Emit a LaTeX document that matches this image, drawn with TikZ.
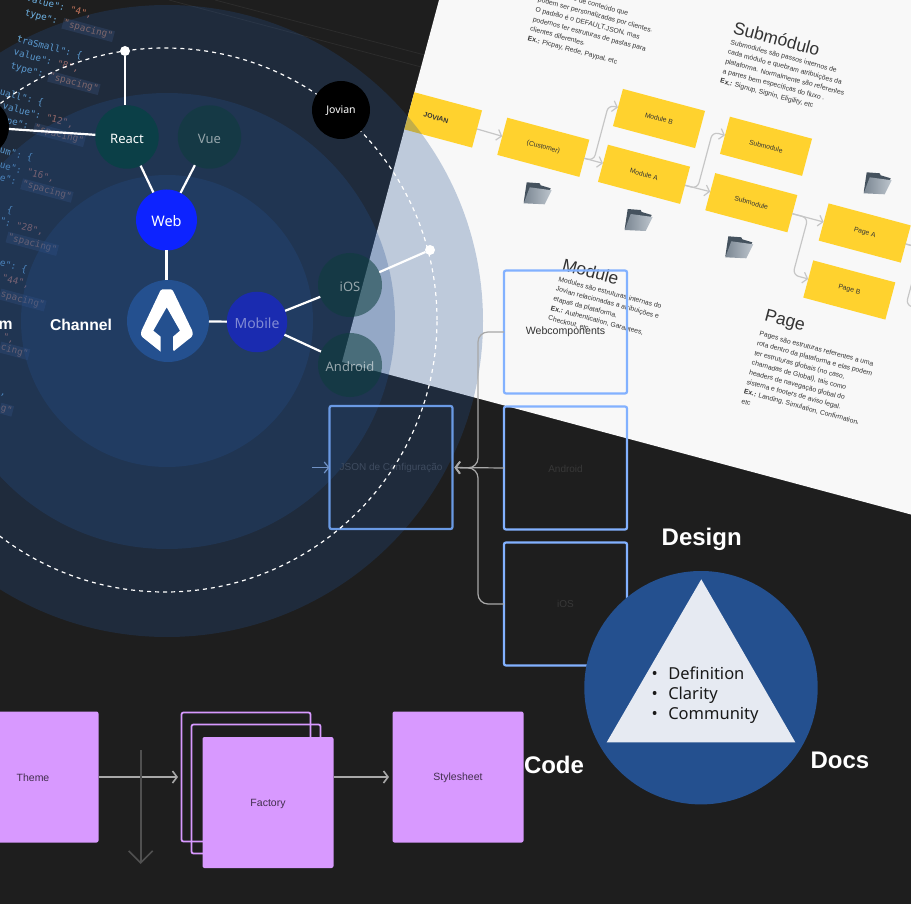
\documentclass[tikz,border=0pt]{standalone}
\usepackage{fontspec}
\setmainfont{Liberation Sans}
\setmonofont{DejaVu Sans Mono}
\newfontfamily\rub{Noto Sans}
\usetikzlibrary{arrows.meta,calc}
\definecolor{bgdark}{HTML}{1E1E1E}
\definecolor{panelc}{HTML}{F8F8F8}
\definecolor{ringc}{HTML}{24508F}
\definecolor{yell}{HTML}{FFD22E}
\definecolor{sqc}{HTML}{82B1FF}
\definecolor{sqd}{HTML}{6A9AE4}
\definecolor{lila}{HTML}{D899FF}
\definecolor{grayarr}{HTML}{C6C6C6}
\definecolor{teal}{HTML}{0D3D3C}
\definecolor{keyc}{HTML}{6FB4E6}
\definecolor{valc}{HTML}{C2735A}
\definecolor{strc}{HTML}{A0705F}
\definecolor{hlc}{HTML}{2A303C}
\definecolor{inkc}{HTML}{333333}
\definecolor{dimj}{HTML}{3F4C60}
\definecolor{dimt}{HTML}{383838}
\definecolor{foldb}{HTML}{45525E}
\definecolor{foldl}{HTML}{BEC6CE}
\definecolor{foldd}{HTML}{7A8692}
\newcommand\fsz[2]{\fontsize{#1}{#2}\selectfont}
\newcommand\dn[1]{\rule{0pt}{.95em}#1}
\newcommand\K[1]{\textcolor{keyc}{#1}}
\newcommand\V[1]{\textcolor{valc}{#1}}
\newcommand\HL[1]{{\setlength{\fboxsep}{1pt}\colorbox{hlc}{\textcolor{strc}{#1}}}}
\newcommand\codeln[4]{\node[codetxt] (#1) at (#2,#3) {#4};}
\tikzset{
  codetxt/.style={anchor=west,rotate=-15,inner sep=0pt,outer sep=0pt,font=\ttfamily\fsz{9.3}{11}},
  ring/.style={circle,fill=ringc,fill opacity=.27,draw=none,inner sep=0pt,outer sep=0pt},
  ybox/.style={rectangle,fill=yell,minimum width=85pt,minimum height=38.5pt,rotate=-15,inner sep=0pt,outer sep=0pt,text=inkc,font=\fsz{6.8}{8}},
  garr/.style={draw=grayarr,line width=1.2pt,-{Straight Barb[length=4.5pt,width=11pt,line width=1.2pt]},rounded corners=6pt},
  gline/.style={draw=grayarr,line width=1.2pt,rounded corners=6pt},
  ptitle/.style={rotate=-15,anchor=west,inner sep=0pt,outer sep=0pt,text=inkc,font=\fsz{17.5}{20}},
  pbody/.style={rotate=-15,anchor=north west,inner sep=0pt,outer sep=0pt,text=inkc,align=left,font=\fsz{6.8}{10}},
  sqbox/.style={rectangle,draw=sqc,line width=2.2pt,rounded corners=2pt,minimum size=123pt,inner sep=0pt,outer sep=0pt},
  lilabox/.style={rectangle,fill=lila,rounded corners=2pt,minimum size=131pt,inner sep=0pt,outer sep=0pt,text=black!70!lila,font=\fsz{10.5}{12}},
  lilaframe/.style={rectangle,draw=lila,line width=1.8pt,rounded corners=2pt,minimum size=129pt,inner sep=0pt,outer sep=0pt},
  barr/.style={draw=grayarr!85!black,line width=1.6pt,shorten >=3.5pt,-{Straight Barb[length=4.5pt,width=12pt,line width=1.6pt]}},
  wline/.style={draw=white,line width=2.2pt},
  gnode/.style={circle,inner sep=0pt,outer sep=0pt,font=\rub\fsz{13}{15}},
  tealn/.style={gnode,fill=teal,fill opacity=.55,text opacity=1,minimum size=64pt},
  lbl/.style={inner sep=0pt,outer sep=0pt,text=white,font=\bfseries\fsz{15.7}{17}},
  biglbl/.style={inner sep=0pt,outer sep=0pt,text=white,font=\bfseries\fsz{24}{26}},
  dot/.style={circle,fill=white,minimum size=10pt,inner sep=0pt,outer sep=0pt},
  folderpic/.pic={
    \fill[foldb] (-10,-11) -- (3,-10) -- (4,-8) -- (14,-5) -- (7,10) -- (-13,9) -- cycle;
    \shade[left color=foldd,right color=foldl] (-7,-6) -- (15,-3) -- (8,11) -- (-13,10) -- cycle;
  }
}
\begin{document}
\begin{tikzpicture}[x=1pt,y=-1pt]
\useasboundingbox (0,0) rectangle (911,904);
\clip (0,0) rectangle (911,904);
\fill[bgdark] (0,0) rectangle (911,904);
% faint lines
\draw[draw=white!6!bgdark,line width=.8pt] (215,0) -- (440,59);
\draw[draw=white!6!bgdark,line width=.8pt] (169,0) -- (440,72);
% code
\codeln{c1}{27}{-2}{\K{value": }\V{"4",}}
\codeln{c2}{25}{13}{\K{type": }\HL{"spacing"}}
\codeln{c3}{17}{39}{\K{traSmall": \{}}
\codeln{c4}{14}{52}{\K{value": }\V{"8",}}
\codeln{c5}{10.7}{66}{\K{type": }\HL{"spacing"}}
\codeln{c6}{0}{92}{\K{uall": \{}}
\codeln{c7}{3}{106}{\K{value": }\V{"12",}}
\codeln{c8}{-4}{118}{\K{type": }\HL{"spacing"}}
\codeln{c9}{0}{150}{\K{um": \{}}
\codeln{c10}{0}{165}{\K{ue": }\V{"16",}}
\codeln{c11}{0}{178}{\K{e": }\HL{"spacing"}}
\codeln{c12}{7}{210}{\K{\{}}
\codeln{c13}{0}{221}{\K{": }\V{"28",}}
\codeln{c14}{7}{237}{\HL{"spacing"}}
\codeln{c15}{0}{263}{\K{e": \{}}
\codeln{c16}{2}{278}{\V{"44",}}
\codeln{c17}{0}{294}{\HL{spacing"}}
\codeln{c18}{3}{337}{\V{",}}
\codeln{c19}{0}{347}{\HL{cing"}}
\codeln{c20}{0}{394}{\K{,}}
\codeln{c21}{0}{408}{\HL{g"}}
% panel
\fill[panelc] (441.7,-10) -- (342,362) -- (930,519.6) -- (930,-10) -- cycle;
% panel texts
\node[pbody] (t1a) at (558.3,-8.3) {rações de conteúdo que};
\node[pbody] (t1b) at (539,-3) {podem ser personalizadas por clientes.\\O padrão é o DEFAULT.JSON, mas\\podemos ter estruturas de pastas para\\clientes diferentes.\\\textbf{Ex.:} Picpay, Rede, Paypal, etc};
\node[ptitle] (t2) at (734,27) {Submódulo};
\node[pbody] (t2b) at (731.5,39.5) {Submodules são passos internos de\\cada módulo e quebram atribuições da\\plataforma. Normalmente são referentes\\a partes bem específicas do fluxo .\\\textbf{Ex.:} Signup, Signin, Eligility, etc};
\node[ptitle] (t3) at (563,264) {Module};
\node[pbody] (t3b) at (559.5,276.5) {Modules são estruturas internas do\\Jovian relacionadas a atribuições e\\etapas da plataforma.\\\textbf{Ex.:} Authentication, Garantees,\\Checkout, etc};
\node[ptitle] (t4) at (765,316) {Page};
\node[pbody] (t4b) at (760.5,331) {Pages são estruturas referentes a uma\\rota dentro da plataforma e elas podem\\ter estruturas globais (no caso,\\chamadas de Global), tais como\\headers de navegação global do\\sistema e footers de aviso legal.\\\textbf{Ex.:} Landing, Simulation, Confirmation,\\etc};
% yellow boxes
\begin{scope}
\clip (441.7,-10) -- (342,362) -- (930,519.6) -- (930,-10) -- cycle;
\node[ybox] (jov) at (436,118) {\textbf{JOVIAN}};
\end{scope}
\node[ybox] (cust) at (543.3,147.3) {(Customer)};
\node[ybox] (modb) at (659,118.5) {Module B};
\node[ybox] (moda) at (644,174.3) {Module A};
\node[ybox] (sub1) at (766,146.3) {Submodule};
\node[ybox] (sub2) at (751.3,202.7) {Submodule};
\node[ybox] (pagea) at (864.7,233) {Page A};
\node[ybox] (pageb) at (849.3,290) {Page B};
\draw[garr] (jov.east) -- (cust.west);
\draw[garr] (cust.east) -- (moda.west);
\draw[garr] (cust.east) -- ++(15:9.6) -- ++(105:-57.8) -- (modb.west);
\draw[garr] (moda.east) -- (sub2.west);
\draw[garr] (moda.east) -- ++(15:12.8) -- ++(105:-58.7) -- (sub1.west);
\draw[garr] (sub2.east) -- (pagea.west);
\draw[garr] (sub2.east) -- ++(15:16.2) -- ++(105:58.9) -- (pageb.west);
\draw[gline] (pagea.east) -- ++(15:20);
\draw[gline] (pagea.east) -- ++(15:16) -- ++(105:59) -- ++(15:16);
% folders
\pic at (536.7,193.3) {folderpic};
\pic at (637.7,220) {folderpic};
\pic at (738.3,247.3) {folderpic};
\pic at (876.7,183.3) {folderpic};
% blue squares
\node[sqbox,text=inkc,font=\fsz{10.6}{14}] (webc) at (565.5,332) {Webcomponents};
\node[sqbox,text=dimt,font=\fsz{10}{12}] (andr) at (565.5,468) {\dn{Android}};
\node[sqbox,text=dimt,font=\fsz{10}{12}] (ios2) at (565.5,604) {iOS};
\coordinate (bus) at (478,468);
% rings
\node[ring,minimum size=632pt] (r1) at (167,321) {};
\node[ring,minimum size=456pt] (r2) at (167,321) {};
\node[ring,minimum size=292pt] (r3) at (167,321) {};
% JSON square
\node[sqbox,draw=sqd,text=dimj,font=\fsz{10}{12}] (json) at (391,467.5) {JSON de Configuração};
\coordinate (jin) at (312,467.5);
\draw[draw=sqd!70!gray,line width=1.2pt,-{Straight Barb[length=4.5pt,width=11pt,line width=1.2pt]}] (jin) -- (json.west);
\draw[barr,line width=1.2pt,shorten >=2pt,rounded corners=10pt] (webc.west) -| (bus) -- (json.east);
\draw[barr,line width=1.2pt,shorten >=2pt,rounded corners=10pt] (ios2.west) -| (bus) -- (json.east);
\draw[barr,line width=1.2pt,shorten >=2pt] (andr.west) -- (json.east);
% dashed circle
\node[circle,draw=white,line width=1.2pt,dash pattern=on 4pt off 4pt,minimum size=544pt,inner sep=0pt,outer sep=0pt] (dashc) at (165,320) {};
% graph
\node[dot] (dtop) at (125,51) {};
\node[dot] (dright) at (430,250) {};
\node[gnode,fill=black,minimum size=58pt] (lblack) at (-20,127) {};
\node[gnode,fill=black,text=white,minimum size=58pt,font=\rub\fsz{10.5}{12}] (jovian) at (341,110) {\dn{Jovian}};
\node[gnode,fill={rgb,255:red,11;green,63;blue,71},text=white,minimum size=63.5pt] (react) at (127,137) {\dn{React}};
\node[gnode,fill=teal,fill opacity=.55,text=white,text opacity=.55,minimum size=63.5pt] (vue) at (209.5,137) {\dn{Vue}};
\node[gnode,fill={rgb,255:red,13;green,35;blue,255},text=white,minimum size=61pt,font=\rub\fsz{14.5}{16}] (web) at (166.5,220) {\dn{Web}};
\node[gnode,fill=ringc,minimum size=82pt] (hub) at (168,321) {};
\node[gnode,fill={rgb,255:red,26;green,43;blue,176},text=white,text opacity=.45,minimum size=60.5pt,font=\rub\fsz{14}{16}] (mobile) at (257,322) {\dn{Mobile}};
\node[tealn,text=white,text opacity=.55] (ios) at (350,285) {\dn{iOS}};
\node[tealn,text=white,text opacity=.55] (android) at (350,365) {\dn{Android}};
\fill[white,rounded corners=1.5pt] (161,289.3) -- (172.3,289.3) -- (192.7,331.7) -- (192.7,336) -- (173,351.7) [sharp corners] -- (173,336.7) -- (180,330.7) -- (166.7,307.3) -- (153.3,330.7) -- (160.7,336.7) -- (160.7,351.7) [rounded corners=1.5pt] -- (141,336) -- (141,331.7) -- cycle;
\draw[wline] (dtop) -- (react.north -| dtop);
\draw[wline] (lblack) -- (react);
\draw[wline] (react) -- (web);
\draw[wline] (vue) -- (web);
\draw[wline] (web.south) -- (web.south |- hub.north);
\draw[wline] (hub) -- (mobile);
\draw[wline] (mobile) -- (ios);
\draw[wline] (mobile) -- (android);
\draw[wline] (ios) -- (dright);
\node[lbl] (chan) at (81,325) {Channel};
\node[lbl,anchor=east] (plat) at (12.5,325) {m};
% triangle circle
\node[circle,fill=ringc,minimum size=233.4pt,inner sep=0pt,outer sep=0pt] (tc) at (701,687.7) {};
\fill[fill={rgb,255:red,230;green,234;blue,242}] (701.3,579.3) -- (795.3,742.3) -- (606.7,742.3) -- cycle;
\node[inner sep=0pt,outer sep=0pt,anchor=north west,align=left,text=black!90,font=\rub\fsz{16.5}{20}] (tl) at (651.5,666.5) {\makebox[16.8pt][l]{•}Definition\\\makebox[16.8pt][l]{•}Clarity\\\makebox[16.8pt][l]{•}Community};
\node[biglbl] (des) at (701.7,539) {Design};
\node[biglbl] (cod) at (554,765) {Code};
\node[biglbl] (doc) at (840,760) {Docs};
% bottom row
\node[lilaframe] (f1) at (246,777) {};
\node[lilaframe] (f2) at (256,789) {};
\node[lilabox] (theme) at (33,777) {\dn{Theme}};
\node[lilabox] (fact) at (268,802.5) {\dn{Factory}};
\node[lilabox] (style) at (458,777) {\dn{Stylesheet}};
\draw[barr] (theme.east) -- (f1.west);
\draw[barr] (fact.east |- style.west) -- (style.west);
\coordinate (va) at (140.7,750);
\coordinate (vb) at (140.7,864);
\draw[draw=white!22!bgdark,line width=1.6pt,-{Straight Barb[length=12pt,width=24pt,line width=1.6pt]}] (va) -- (vb);
\end{tikzpicture}
\end{document}
